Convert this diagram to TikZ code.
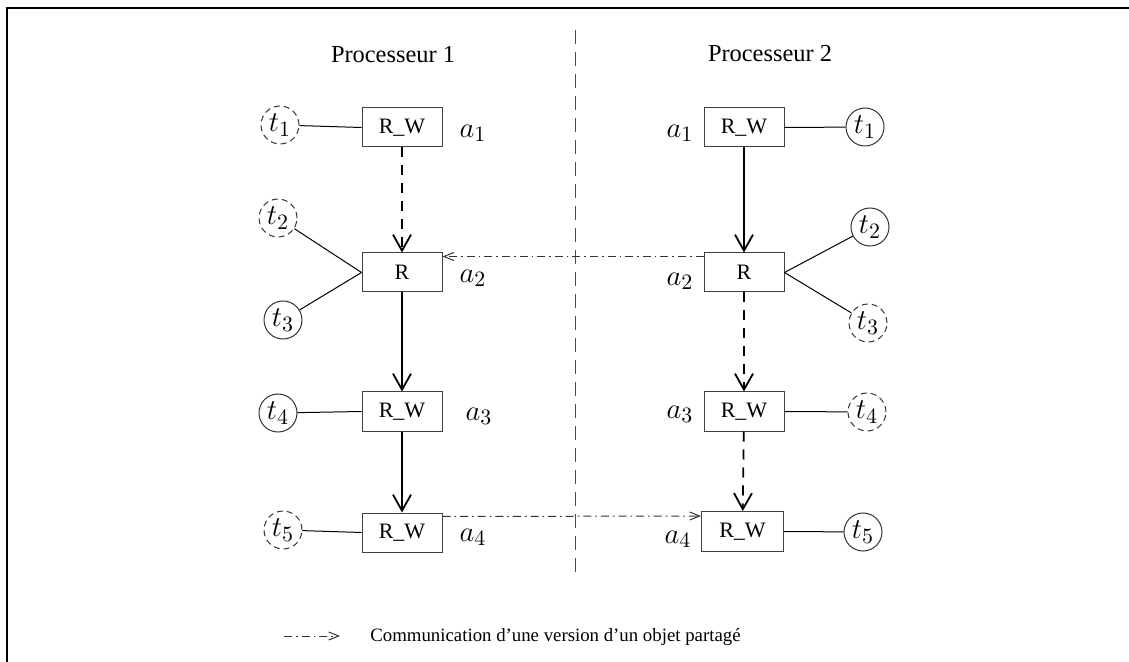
\documentclass[tikz,border=0pt]{standalone}
\usepackage{fontspec}
\setmainfont{Liberation Serif}
\usetikzlibrary{arrows.meta}
\begin{document}
\begin{tikzpicture}[x=0.5pt,y=-0.5pt,
  box/.style={draw=black!75,line width=0.5pt,minimum width=40pt,minimum height=19.5pt,inner sep=0pt,font=\fontsize{11}{12}\selectfont},
  task/.style={circle,draw=black!80,line width=0.5pt,minimum size=19pt,inner sep=0pt,font=\fontsize{15}{17}\selectfont},
  dtask/.style={task,dash pattern=on 3pt off 2pt},
  lab/.style={inner sep=0pt,font=\fontsize{15}{17}\selectfont},
  link/.style={line width=0.5pt},
  flow/.style={line width=0.9pt,-{Straight Barb[length=8pt,width=9pt,line width=0.9pt]}},
  dflow/.style={flow,dash pattern=on 5pt off 4pt},
  comm/.style={draw=black!80,line width=0.5pt,dash pattern=on 4pt off 2pt on 0.8pt off 2pt,-{Straight Barb[length=5pt,width=4pt]}},
  title/.style={font=\fontsize{12.2}{14}\selectfont}
]
\useasboundingbox (0,0) rectangle (1129,662);
% frame
\draw[line width=1pt] (7,662) -- (7,8) -- (1129,8);
% divider
\draw[black!70,line width=0.5pt,dash pattern=on 7pt off 4pt] (575,30) -- (575,578);
% titles
\node[title] (p1) at (393,55) {Processeur 1};
\node[title] (p2) at (770,54) {Processeur 2};
% left column
\node[box] (l1) at (402,127.5) {R\_W};
\node[box] (l2) at (402,272.5) {R};
\node[box] (l3) at (402,411.5) {R\_W};
\node[box] (l4) at (402,532.5) {R\_W};
% right column
\node[box] (r1) at (744,127.5) {R\_W};
\node[box] (r2) at (744,272.5) {R};
\node[box] (r3) at (744,411.5) {R\_W};
\node[box,minimum width=41pt,minimum height=20pt] (r4) at (742.5,531.5) {R\_W};
% tasks left
\node[dtask] (lt1) at (280,125) {$t_1$};
\node[dtask] (lt2) at (278,218) {$t_2$};
\node[task] (lt3) at (283,320) {$t_3$};
\node[task] (lt4) at (278,413) {$t_4$};
\node[dtask] (lt5) at (283,530) {$t_5$};
% tasks right
\node[task] (rt1) at (865,127) {$t_1$};
\node[task] (rt2) at (870,227) {$t_2$};
\node[dtask] (rt3) at (868,323) {$t_3$};
\node[dtask] (rt4) at (867,412) {$t_4$};
\node[task] (rt5) at (863,532) {$t_5$};
% labels
\node[lab] (la1) at (473,133) {$a_1$};
\node[lab] (la2) at (473,278) {$a_2$};
\node[lab] (la3) at (479,416) {$a_3$};
\node[lab] (la4) at (473,537) {$a_4$};
\node[lab] (ra1) at (680,133) {$a_1$};
\node[lab] (ra2) at (680,281) {$a_2$};
\node[lab] (ra3) at (680,414) {$a_3$};
\node[lab] (ra4) at (678,539) {$a_4$};
% links
\draw[link] (lt1) -- (l1.west);
\draw[link] (lt2) -- (l2.west);
\draw[link] (lt3) -- (l2.west);
\draw[link] (lt4) -- (l3.west);
\draw[link] (lt5) -- (l4.west);
\draw[link] (rt1) -- (r1.east);
\draw[link] (rt2) -- (r2.east);
\draw[link] (rt3) -- (r2.east);
\draw[link] (rt4) -- (r3.east);
\draw[link] (rt5) -- (r4.east);
% flows
\draw[dflow] (l1) -- (l2);
\draw[flow] (l2) -- (l3);
\draw[flow] (l3) -- (l4);
\draw[flow] (r1) -- (r2);
\draw[dflow] (r2) -- (r3);
\draw[dflow] (r3) -- (r4);
% communications
\draw[comm] ([yshift=-2pt]r2.north west) -- ([yshift=-2pt]l2.north east);
\draw[comm] ([yshift=-2pt]l4.north east) -- ([yshift=-2.5pt]r4.north west);
% legend
\coordinate (lg1) at (284,636);
\coordinate (lg2) at (340,636);
\draw[comm] (lg1) -- (lg2);
\node[anchor=west,inner sep=0pt,font=\fontsize{9.4}{11}\selectfont] (lgt) at (370,637) {Communication d’une version d’un objet partagé};
\end{tikzpicture}
\end{document}
